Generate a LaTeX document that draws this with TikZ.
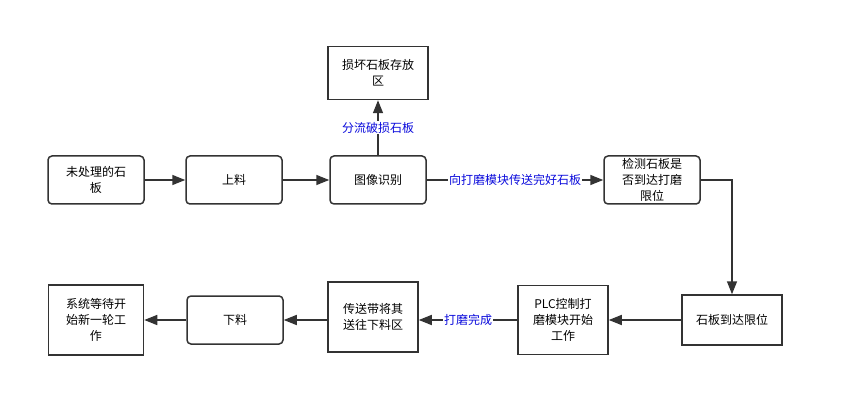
\documentclass[tikz,border=0pt]{standalone}
\usepackage{fontspec}
\setmainfont{Noto Sans CJK SC}
\usetikzlibrary{arrows.meta,positioning}
\definecolor{lineg}{HTML}{333333}
\definecolor{lblue}{HTML}{0A0ADC}
\tikzset{
  box/.style={draw=lineg, line width=1.5pt, line join=miter, line cap=rect, minimum width=96pt, minimum height=48pt, align=center, font=\fontsize{12}{16}\selectfont, inner sep=1pt},
  rbox/.style={box, rounded corners=4pt},
  flow/.style={draw=lineg, line width=1.5pt, -{Triangle[length=13pt,width=10pt]}},
  lbl/.style={fill=white, text=lblue, font=\fontsize{12}{14}\selectfont, inner sep=1pt}
}
\begin{document}
\begin{tikzpicture}[x=1pt, y=-1pt]
\useasboundingbox (0,0) rectangle (844,417);
% top row
\node[rbox] (raw) at (96,180) {未处理的石\\板};
\node[rbox] (load) at (234,180) {上料};
\node[rbox] (recog) at (378,180) {图像识别};
\node[box, minimum width=100pt, minimum height=53pt] (store) at (378,73) {损坏石板存放\\区};
\node[rbox] (check) at (652,180) {检测石板是\\否到达打磨\\限位};
% bottom row
\node[box, minimum width=100pt, minimum height=50pt] (limit) at (732,320) {石板到达限位};
\node[box, minimum width=90pt, minimum height=69pt] (plc) at (563,320) {PLC控制打\\磨模块开始\\工作};
\node[box, minimum width=90pt, minimum height=70pt] (belt) at (373,317) {传送带将其\\送往下料区};
\node[rbox] (unload) at (235,320) {下料};
\node[box, minimum width=95pt, minimum height=70pt] (wait) at (96,320) {系统等待开\\始新一轮工\\作};
% connectors
\draw[flow] (raw) -- (load);
\draw[flow] (load) -- (recog);
\draw[flow] (recog) -- node[lbl] {分流破损石板} (store);
\draw[flow] (recog) -- node[lbl] {向打磨模块传送完好石板} (check);
\draw[flow] (check.east) -| (limit.north);
\draw[flow] (limit) -- (plc);
\draw[flow] (plc) -- node[lbl] {打磨完成} (plc -| belt.east);
\draw[flow] (unload -| belt.west) -- (unload);
\draw[flow] (unload) -- (wait);
\end{tikzpicture}
\end{document}
